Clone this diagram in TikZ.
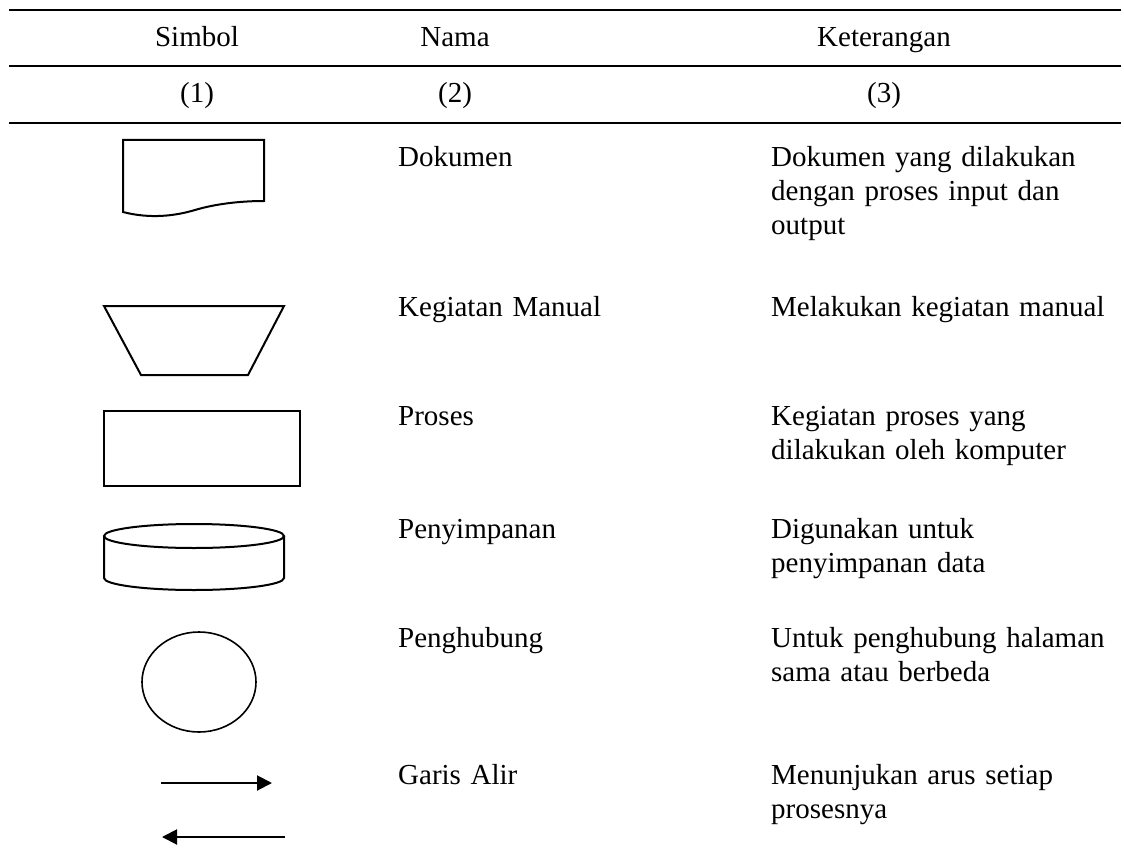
\documentclass[tikz,border=0pt]{standalone}
\usepackage{fontspec}
\setmainfont{Liberation Serif}
\usetikzlibrary{arrows.meta}
\begin{document}
\begin{tikzpicture}[x=1pt,y=-1pt,
  txt/.style={font=\fontsize{29}{34}\selectfont, inner sep=0pt},
  cell/.style={txt, anchor=base west, text width=370pt, align=left},
  head/.style={txt, anchor=base},
  rule/.style={line width=2pt},
  shp/.style={line width=2pt, line join=miter},
  arr/.style={line width=2pt, -{Triangle[length=15pt,width=15pt]}}]
\useasboundingbox (0,0) rectangle (1124,856);
% table rules
\draw[rule] (9,10) -- (1121,10);
\draw[rule] (9,66) -- (1121,66);
\draw[rule] (9,123) -- (1121,123);
% header
\node[head] (h1) at (197,47) {Simbol};
\node[head] (h2) at (455,47) {Nama};
\node[head] (h3) at (884,47) {Keterangan};
\node[head] (n1) at (197,103) {(1)};
\node[head] (n2) at (455,103) {(2)};
\node[head] (n3) at (884,103) {(3)};
% symbols
\draw[shp] (123,140) -- (264,140) -- (264,201)
  .. controls (240,201) and (215,204) .. (195,210)
  .. controls (175,216) and (150,219) .. (123,212) -- cycle;
\draw[shp] (104,306) -- (284,306) -- (248,375) -- (141,375) -- cycle;
\draw[shp] (104,411) rectangle (300,486);
\draw[shp] (194,536) ellipse [x radius=90pt, y radius=12pt];
\draw[shp] (104,536) -- (104,578) arc[start angle=180, end angle=360, x radius=90pt, y radius=12pt] -- (284,536);
\draw[line width=1.6pt] (199,682) ellipse [x radius=57pt, y radius=50pt];
\coordinate (r1) at (161,783);
\coordinate (r2) at (272,783);
\coordinate (l1) at (285,837);
\coordinate (l2) at (162,837);
\draw[arr] (r1) -- (r2);
\draw[arr] (l1) -- (l2);
% names
\node[cell] (a1) at (398,166) {Dokumen};
\node[cell] (a2) at (398,316) {Kegiatan Manual};
\node[cell] (a3) at (398,425) {Proses};
\node[cell] (a4) at (398,538) {Penyimpanan};
\node[cell] (a5) at (398,647) {Penghubung};
\node[cell] (a6) at (398,784) {Garis Alir};
% descriptions
\node[cell] (b1) at (771,166) {Dokumen yang dilakukan\\dengan proses input dan\\output};
\node[cell] (b2) at (771,316) {Melakukan kegiatan manual};
\node[cell] (b3) at (771,425) {Kegiatan proses yang\\dilakukan oleh komputer};
\node[cell] (b4) at (771,538) {Digunakan untuk\\penyimpanan data};
\node[cell] (b5) at (771,647) {Untuk penghubung halaman\\sama atau berbeda};
\node[cell] (b6) at (771,784) {Menunjukan arus setiap\\prosesnya};
\end{tikzpicture}
\end{document}
